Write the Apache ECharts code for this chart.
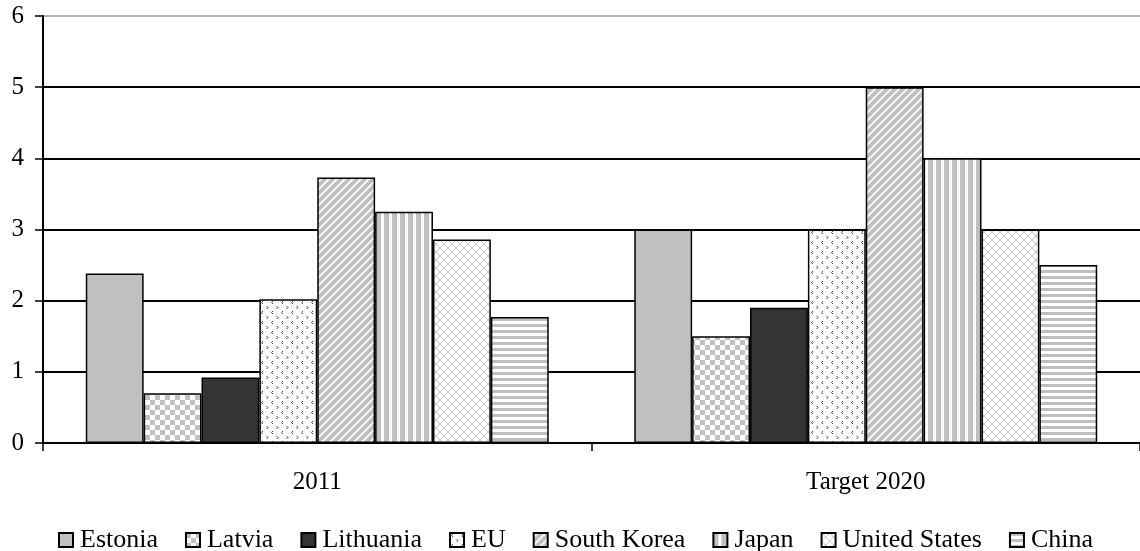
<!DOCTYPE html>
<html>
<head>
<meta charset="utf-8">
<script src="https://cdn.jsdelivr.net/npm/echarts@6/dist/echarts.min.js"></script>
<style>
  html, body { margin: 0; padding: 0; background: #fff; }
  #chart { width: 1140px; height: 551px; }
</style>
</head>
<body>
<div id="chart"></div>
<script>
// Categories and series values
const categories = ['2011', 'Target 2020'];
const seriesNames = ['Estonia', 'Latvia', 'Lithuania', 'EU', 'South Korea', 'Japan', 'United States', 'China'];
const estonia = [2.38, 3];
const latvia = [0.7, 1.5];
const lithuania = [0.92, 1.9];
const eu = [2.02, 3];
const southKorea = [3.73, 5];
const japan = [3.25, 4];
const unitedStates = [2.86, 3];
const china = [1.77, 2.5];
const seriesValues = [estonia, latvia, lithuania, eu, southKorea, japan, unitedStates, china];
const yTicks = [0, 1, 2, 3, 4, 5, 6];

const GRAY = '#c0c0c0';

// Small canvas tiles used as fill patterns
function tile(w, h, draw) {
  const c = document.createElement('canvas');
  c.width = w; c.height = h;
  const g = c.getContext('2d');
  g.fillStyle = '#fff';
  g.fillRect(0, 0, w, h);
  draw(g);
  return { image: c, repeat: 'repeat' };
}

const patterns = [
  GRAY,
  // checkerboard
  tile(10, 10, g => {
    g.fillStyle = GRAY;
    g.fillRect(0, 0, 5, 5);
    g.fillRect(5, 5, 5, 5);
  }),
  '#333433',
  // small chevron dots
  tile(10, 10, g => {
    g.strokeStyle = '#444';
    g.lineWidth = 1;
    g.beginPath();
    g.moveTo(3, 1); g.lineTo(1.5, 2.5); g.lineTo(3, 4);
    g.moveTo(6.5, 6); g.lineTo(8, 7.5); g.lineTo(6.5, 9);
    g.stroke();
  }),
  // diagonal stripes
  tile(8, 8, g => {
    g.strokeStyle = GRAY;
    g.lineWidth = 4;
    g.beginPath();
    for (let k = -2; k <= 2; k++) {
      g.moveTo(k * 8 - 1, 9);
      g.lineTo(k * 8 + 9, -1);
    }
    g.stroke();
  }),
  // vertical stripes
  tile(8, 8, g => {
    g.fillStyle = GRAY;
    g.fillRect(0, 0, 5, 8);
  }),
  // diamond crosshatch
  tile(8, 8, g => {
    g.strokeStyle = '#c8c8c8';
    g.lineWidth = 1;
    g.beginPath();
    g.moveTo(0, 0); g.lineTo(8, 8);
    g.moveTo(8, 0); g.lineTo(0, 8);
    g.stroke();
  }),
  // horizontal stripes
  tile(8, 6, g => {
    g.fillStyle = GRAY;
    g.fillRect(0, 0, 8, 3);
  })
];

const FONT = '"Liberation Serif", "Times New Roman", serif';

const chart = echarts.init(document.getElementById('chart'), null, { renderer: 'canvas' });

chart.setOption({
  animation: false,
  backgroundColor: '#fff',
  textStyle: { fontFamily: FONT },
  grid: { left: 43, right: -11, top: 16, bottom: 108, containLabel: false },
  legend: {
    top: 522,
    left: 53,
    itemWidth: 14,
    itemHeight: 14,
    itemGap: 27,
    icon: 'rect',
    textStyle: { fontFamily: FONT, fontSize: 26, color: '#000', padding: [0, 0, 0, 2] },
    data: seriesNames
  },
  xAxis: {
    type: 'category',
    data: categories,
    axisLine: { lineStyle: { color: '#000', width: 2 } },
    axisTick: { show: true, length: 8, lineStyle: { color: '#000', width: 1.5 } },
    axisLabel: { color: '#000', fontSize: 25, fontFamily: FONT, margin: 27 }
  },
  yAxis: {
    type: 'value',
    min: yTicks[0],
    max: yTicks[yTicks.length - 1],
    interval: 1,
    axisLine: { show: true, lineStyle: { color: '#000', width: 2 } },
    axisTick: { show: true, length: 8, lineStyle: { color: '#000', width: 1.5 } },
    axisLabel: { color: '#000', fontSize: 25, fontFamily: FONT, margin: 19, padding: [4, 0, 0, 0] },
    splitLine: {
      show: true,
      lineStyle: { color: ['#000', '#000', '#000', '#000', '#000', '#000', '#b4b4b4'], width: 2 }
    }
  },
  series: seriesNames.map((name, i) => ({
    name,
    type: 'bar',
    data: seriesValues[i],
    barGap: '0%',
    barCategoryGap: '15.6%',
    itemStyle: { color: patterns[i], borderColor: '#000', borderWidth: 1.5 }
  }))
});
</script>
</body>
</html>
